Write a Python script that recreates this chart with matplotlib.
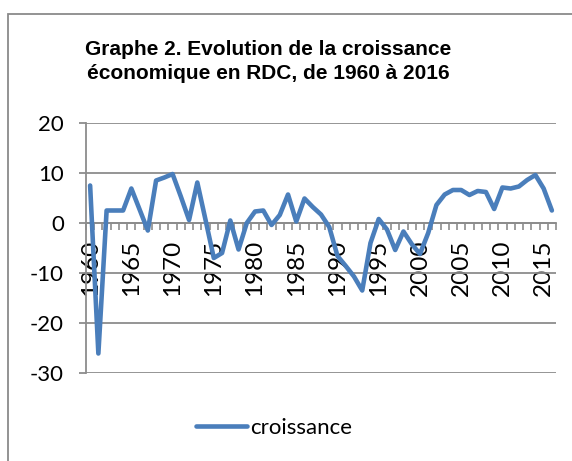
import matplotlib
matplotlib.use("Agg")
import matplotlib.pyplot as plt
from matplotlib.patches import Rectangle
from matplotlib.ticker import FixedLocator, NullFormatter

# Growth data (% per year)
years = list(range(1960, 2017))
croissance = [
    7.5, -26.1, 2.5, 2.5, 2.5, 6.9, 2.7, -1.5, 8.5, 9.1,    # 1960-1969
    9.8, 5.3, 0.6, 8.1, 0.6, -7.0, -6.0, 0.5, -5.3, 0.0,    # 1970-1979
    2.3, 2.5, -0.4, 1.6, 5.7, 0.3, 4.9, 3.2, 1.7, -0.8,     # 1980-1989
    -6.6, -8.6, -10.7, -13.5, -4.0, 0.8, -1.3, -5.4, -1.7, -4.2,  # 1990-1999
    -6.2, -2.0, 3.6, 5.7, 6.6, 6.6, 5.6, 6.4, 6.2, 2.8,     # 2000-2009
    7.1, 6.9, 7.3, 8.6, 9.6, 6.9, 2.5,                     # 2010-2016
]
y_ticks = [-30, -20, -10, 0, 10, 20]
title = "Graphe 2. Evolution de la croissance\néconomique en RDC, de 1960 à 2016"

grid_color = "#8c8c8c"
line_color = "#4a7ebb"

plt.rcParams['font.family'] = ['Lato', 'DejaVu Sans']
plt.rcParams['axes.unicode_minus'] = False

fig = plt.figure(figsize=(5.72, 4.61), dpi=100)
ax = fig.add_axes([86 / 572, 1 - 373 / 461, (556 - 86) / 572, (373 - 123) / 461])

x = list(range(len(years)))
ax.plot(x, croissance, color=line_color, linewidth=3.3, label="croissance",
        solid_joinstyle="round", solid_capstyle="round", zorder=3)

ax.set_xlim(-0.5, len(years) - 0.5)
ax.set_ylim(-30, 20)

# y axis + grid
ax.set_yticks(y_ticks)
ax.yaxis.grid(True, color=grid_color, linewidth=1.3)
ax.set_axisbelow(True)
ax.tick_params(axis="y", length=5, width=1.3, color=grid_color, pad=11, labelsize=16)

# category axis sitting at zero
ax.spines["bottom"].set_position(("data", 0))
ax.spines["bottom"].set_color(grid_color)
ax.spines["bottom"].set_linewidth(1.3)
ax.spines["left"].set_color(grid_color)
ax.spines["left"].set_linewidth(1.3)
ax.spines["top"].set_visible(False)
ax.spines["right"].set_visible(False)

lab_pos = [i for i, yr in enumerate(years) if yr % 5 == 0]
ax.set_xticks(lab_pos)
ax.set_xticklabels([str(years[i]) for i in lab_pos], rotation=90)
ax.xaxis.set_minor_locator(FixedLocator([i - 0.5 for i in range(len(years) + 1)]))
ax.xaxis.set_minor_formatter(NullFormatter())
ax.tick_params(axis="x", which="major", length=0, pad=12, labelsize=17.5)
ax.tick_params(axis="x", which="minor", length=5, width=1.2, color=grid_color)

fig.text(268 / 572, 1 - 61.5 / 461, title, ha="center", va="center",
         fontsize=15, fontweight="bold", family="Liberation Sans", linespacing=1.3)

fig.legend(loc="center", bbox_to_anchor=(274 / 572, 1 - 428 / 461), frameon=False,
           fontsize=16, handlelength=2.3, handletextpad=0.1)

# chart frame (left and top edges visible in the crop)
fig.patches.append(Rectangle((8 / 572, -0.1), 1.2, (461 - 14) / 461 + 0.1,
                             transform=fig.transFigure, fill=False,
                             edgecolor="#8a8a8a", linewidth=1.3))

fig.savefig("out.png", dpi=100)
